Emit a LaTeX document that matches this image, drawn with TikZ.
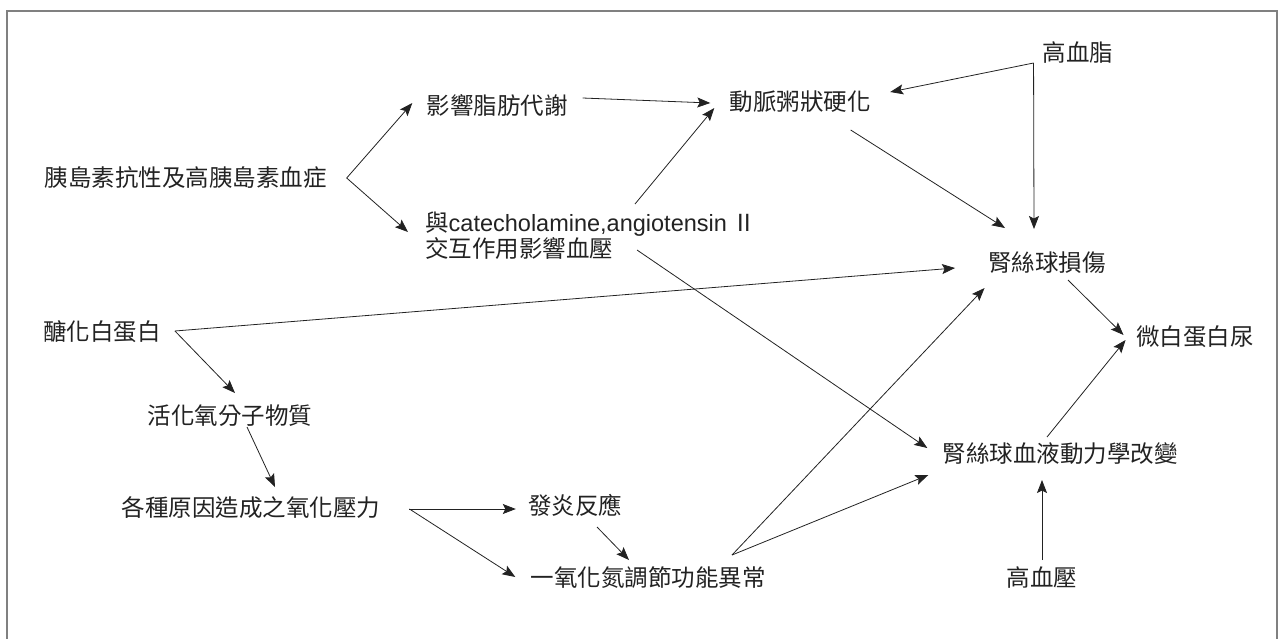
\documentclass[tikz,border=0pt]{standalone}
\usepackage{fontspec}
\setmainfont{Liberation Sans}
\newfontfamily\cjk{Noto Sans CJK TC}
\newfontfamily\lat{Liberation Sans}
\usetikzlibrary{arrows.meta,calc}
\definecolor{txt}{HTML}{222222}
\definecolor{frame}{HTML}{808080}
\tikzset{
  lbl/.style={font=\cjk\fontsize{23.5}{26}\selectfont, inner sep=0pt, text=txt},
  arr/.style={-{Stealth[length=13pt,width=10pt,inset=2.5pt]}, line width=0.8pt, draw=txt},
}
\begin{document}
\begin{tikzpicture}[x=1pt,y=-1pt]
\useasboundingbox (0,0) rectangle (1282,638);
\draw[frame, line width=2pt] (7,640) -- (7,11) -- (1277,11) -- (1277,640);

\node[lbl] (ins) at (185.5,178) {胰島素抗性及高胰島素血症};
\node[lbl] (fat) at (497,105) {影響脂肪代謝};
\node[lbl] (athero) at (800,102) {動脈粥狀硬化};
\node[lbl] (hl) at (1078,53) {高血脂};
\node[lbl, anchor=west, align=left] (cat) at (425,236) {與{\lat catecholamine,angiotensin} Ⅱ\\交互作用影響血壓};
\node[lbl] (glom) at (1047,263) {腎絲球損傷};
\node[lbl] (micro) at (1195,337) {微白蛋白尿};
\node[lbl] (glyc) at (102,332) {醣化白蛋白};
\node[lbl] (ros) at (230,416) {活化氧分子物質};
\node[lbl] (ox) at (251,508) {各種原因造成之氧化壓力};
\node[lbl] (inf) at (575,505) {發炎反應};
\node[lbl] (no) at (648,578) {一氧化氮調節功能異常};
\node[lbl] (hemo) at (1060,454) {腎絲球血液動力學改變};
\node[lbl] (hbp) at (1042,578) {高血壓};

\draw[arr] ($(ins.east)+(20,0)$) -- ($(fat.west)+(-14,-2)$);
\draw[arr] ($(ins.east)+(20,0)$) -- ($(cat.west)+(-17,-4)$);
\draw[arr] ($(fat.east)+(15,-7)$) -- ($(athero.west)+(-19,1)$);
\draw[arr] ($(cat.west)+(210,-32)$) -- ($(athero.west)+(-15,6)$);
\draw[arr] ($(hl.west)+(-9,10)$) -- ($(athero.east)+(19.5,-10)$);
\draw[arr] ($(hl.west)+(-9,10)$) -- ($(glom.center)+(-13,-34)$);
\draw[arr] ($(athero.east)+(-20,28)$) -- ($(glom.center)+(-42,-35)$);
\draw[arr] ($(glyc.east)+(14,-1)$) -- ($(glom.west)+(-33,5)$);
\draw[arr] ($(glyc.east)+(14,-1)$) -- ($(ros.center)+(5,-23)$);
\draw[arr] ($(ros.center)+(17,11)$) -- ($(ox.center)+(24,-21)$);
\draw[arr] ($(ox.east)+(29,1)$) -- ($(inf.west)+(-12,4)$);
\draw[arr] ($(ox.east)+(29,1)$) -- ($(no.west)+(-15,-1)$);
\draw[arr] ($(inf.center)+(22,22)$) -- ($(no.center)+(-19,-18)$);
\draw[arr] ($(no.center)+(84,-23)$) -- ($(glom.west)+(-3.5,25)$);
\draw[arr] ($(no.center)+(84,-23)$) -- ($(hemo.west)+(-14,21)$);
\draw[arr] ($(cat.west)+(212,14)$) -- ($(hemo.west)+(-15,-6)$);
\draw[arr] ($(glom.center)+(21,17)$) -- ($(micro.west)+(-12.5,-2)$);
\draw[arr] ($(hemo.center)+(-13,-17)$) -- ($(micro.west)+(-10.5,3)$);
\draw[arr] ($(hbp.center)+(0,-18)$) -- ($(hemo.center)+(-18,26)$);
\end{tikzpicture}
\end{document}
